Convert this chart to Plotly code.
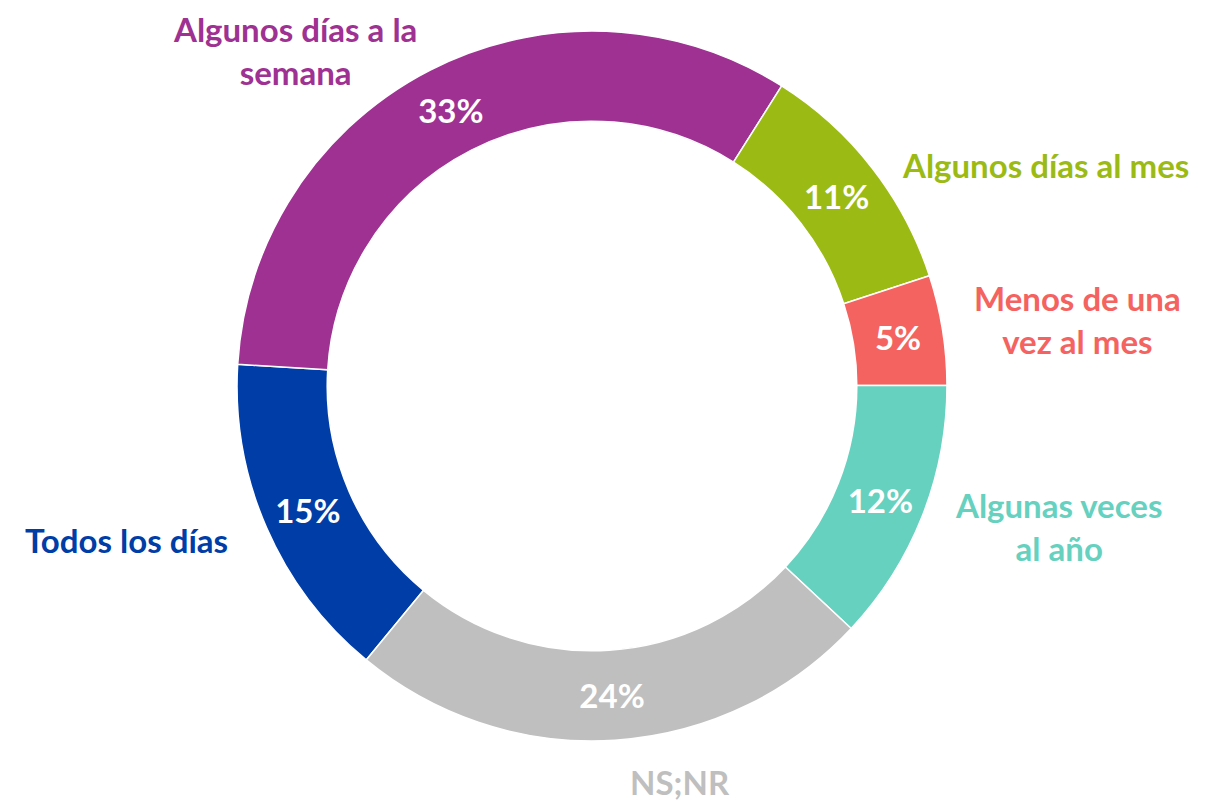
import plotly.graph_objects as go

categories = ["Todos los días", "Algunos días a la semana", "Algunos días al mes",
              "Menos de una vez al mes", "Algunas veces al año", "NS;NR"]
values = [15, 33, 11, 5, 12, 24]
colors = ["#003DA6", "#9E3192", "#9BBB14", "#F4635F", "#66D1BF", "#BFBFBF"]
label_texts = ["Todos los días", "Algunos días a la<br>semana", "Algunos días al mes",
               "Menos de una<br>vez al mes", "Algunas veces<br>al año", "NS;NR"]

FONT = "Lato"

fig = go.Figure(go.Pie(
    labels=categories,
    values=values,
    sort=False,
    direction="clockwise",
    rotation=219.5,
    hole=0.746,
    marker=dict(colors=colors, line=dict(color="white", width=1.5)),
    texttemplate="%{value}%",
    textposition="inside",
    insidetextorientation="horizontal",
    insidetextfont=dict(family=FONT, size=33, color="white", weight="bold"),
    showlegend=False,
    domain=dict(x=[0.1949, 0.7788], y=[0.0761, 0.9613]),
))

# outside label positions (paper coords): x center, y center
label_pos = [(126, 540), (295, 50), (1045, 165), (1077, 319), (1058, 526), (680, 782)]
W, H = 1216, 802
for txt, col, (px, py) in zip(label_texts, colors, label_pos):
    fig.add_annotation(
        x=px / W, y=1 - py / H, xref="paper", yref="paper",
        text=txt, showarrow=False, xanchor="center", yanchor="middle",
        align="center",
        font=dict(family=FONT, size=33, color=col, weight="bold"),
    )

fig.update_layout(
    width=W, height=H,
    margin=dict(l=0, r=0, t=0, b=0),
    paper_bgcolor="white",
    plot_bgcolor="white",
)

fig.write_html("out.html", config={"displayModeBar": False},
               post_script="document.body.style.margin='0';")
